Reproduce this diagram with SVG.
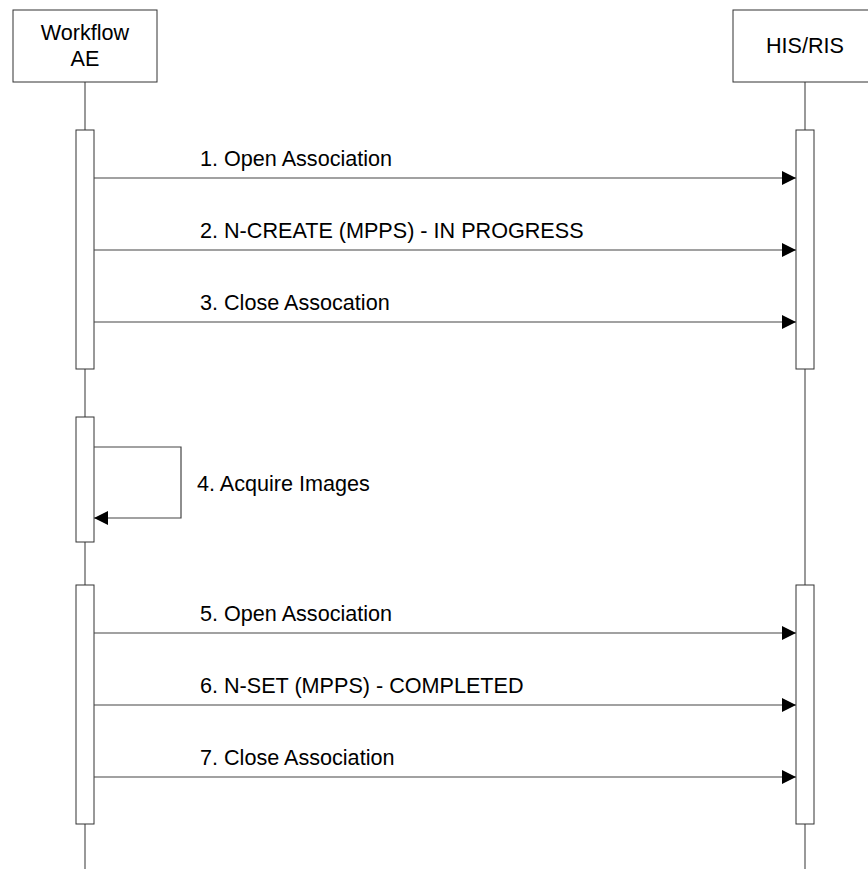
<svg xmlns="http://www.w3.org/2000/svg" width="868" height="869" viewBox="0 0 868 869">
<defs>
<style>
.box{fill:#fff;stroke:#333;stroke-width:1}
.life{stroke:#555;stroke-width:1.2;fill:none}
.bar{fill:#fff;stroke:#333;stroke-width:1}
.msg{stroke:#444;stroke-width:1.2;fill:none}
.t{font-family:"Liberation Sans",Arial,sans-serif;font-size:21.6px;fill:#000}
.c{text-anchor:middle}
</style>
<marker id="ah" viewBox="0 0 14 14" refX="14" refY="7" markerWidth="14" markerHeight="14" markerUnits="userSpaceOnUse" orient="auto">
<path d="M0,0 L14,7 L0,14 Z" fill="#000"/>
</marker>
</defs>
<rect width="868" height="869" fill="#fff"/>
<g id="lifelines">
<line class="life" x1="85" y1="82" x2="85" y2="869"/>
<line class="life" x1="805" y1="82" x2="805" y2="869"/>
</g>
<g id="workflow-ae">
<rect class="box" x="13" y="10" width="144" height="72"/>
<text class="t c" x="85" y="40">Workflow</text>
<text class="t c" x="85" y="66">AE</text>
</g>
<g id="his-ris">
<rect class="box" x="733" y="10" width="144" height="72"/>
<text class="t c" x="805" y="53">HIS/RIS</text>
</g>
<g id="activations">
<rect class="bar" x="76" y="130" width="18" height="239"/>
<rect class="bar" x="796" y="130" width="18" height="239"/>
<rect class="bar" x="76" y="417" width="18" height="125"/>
<rect class="bar" x="76" y="585" width="18" height="239"/>
<rect class="bar" x="796" y="585" width="18" height="239"/>
</g>
<g id="connectors">
<line class="msg" x1="94" y1="178" x2="796" y2="178" marker-end="url(#ah)"/>
<line class="msg" x1="94" y1="250" x2="796" y2="250" marker-end="url(#ah)"/>
<line class="msg" x1="94" y1="322" x2="796" y2="322" marker-end="url(#ah)"/>
<polyline class="msg" points="94,447 181,447 181,518 94,518" marker-end="url(#ah)"/>
<line class="msg" x1="94" y1="633" x2="796" y2="633" marker-end="url(#ah)"/>
<line class="msg" x1="94" y1="705" x2="796" y2="705" marker-end="url(#ah)"/>
<line class="msg" x1="94" y1="777" x2="796" y2="777" marker-end="url(#ah)"/>
</g>
<g id="labels">
<text class="t" x="200" y="166">1. Open Association</text>
<text class="t" x="200" y="238">2. N-CREATE (MPPS) - IN PROGRESS</text>
<text class="t" x="200" y="310">3. Close Assocation</text>
<text class="t" x="197" y="491">4. Acquire Images</text>
<text class="t" x="200" y="621">5. Open Association</text>
<text class="t" x="200" y="693">6. N-SET (MPPS) - COMPLETED</text>
<text class="t" x="200" y="765">7. Close Association</text>
</g>
</svg>
